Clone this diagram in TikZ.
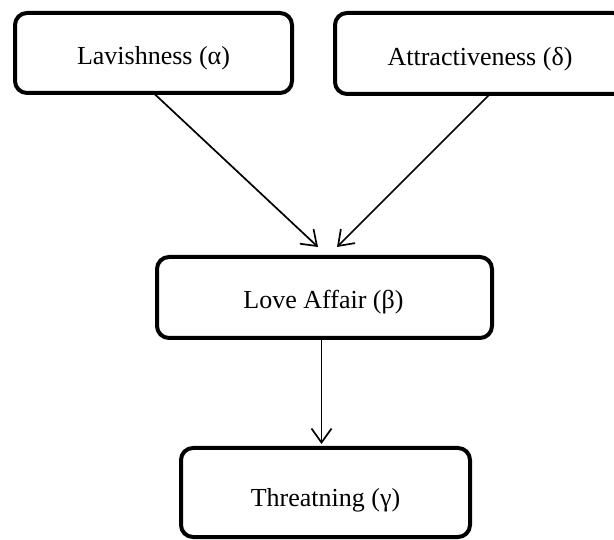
\documentclass[tikz,border=0pt]{standalone}
\usepackage{fontspec}
\setmainfont{Liberation Serif}
\usetikzlibrary{arrows.meta,calc}
\tikzset{
  box/.style={draw=black, line width=4pt, rounded corners=12pt, fill=white, inner sep=0pt, outer sep=0pt},
  lbl/.style={inner sep=0pt, font=\fontsize{26}{30}\selectfont},
  arr/.style={draw=black, line width=1.7pt, -{Straight Barb[length=14pt,width=20pt,line width=1.7pt]}}
}
\begin{document}
\begin{tikzpicture}[x=1pt,y=-1pt]
\useasboundingbox (0,0) rectangle (614,540);
\clip (0,0) rectangle (614,540);
\node[box, minimum width=277pt, minimum height=80pt] (lav) at (153.5,53) {};
\node[box, minimum width=290pt, minimum height=81pt] (att) at (480,53.5) {};
\node[box, minimum width=335pt, minimum height=81pt] (love) at (324.5,297.5) {};
\node[box, minimum width=289pt, minimum height=89pt] (thr) at (325.5,492.5) {};
\node[lbl] (lavT) at ($(lav.center)+(0,5.5)$) {Lavishness (α)};
\node[lbl] (attT) at ($(att.center)+(0,5.5)$) {Attractiveness (δ)};
\node[lbl] (loveT) at ($(love.center)+(-1,5)$) {Love Affair (β)};
\node[lbl] (thrT) at ($(thr.center)+(0,7.5)$) {Threatning (γ)};
\draw[arr] (lav.south) -- ($(love.north)+(-6.5,-10)$);
\draw[arr] ($(att.south)+(10,0)$) -- ($(love.north)+(12.5,-10)$);
\draw[arr] ($(love.south)+(-3,0)$) -- ($(thr.north)+(-4,-4)$);
\end{tikzpicture}
\end{document}
